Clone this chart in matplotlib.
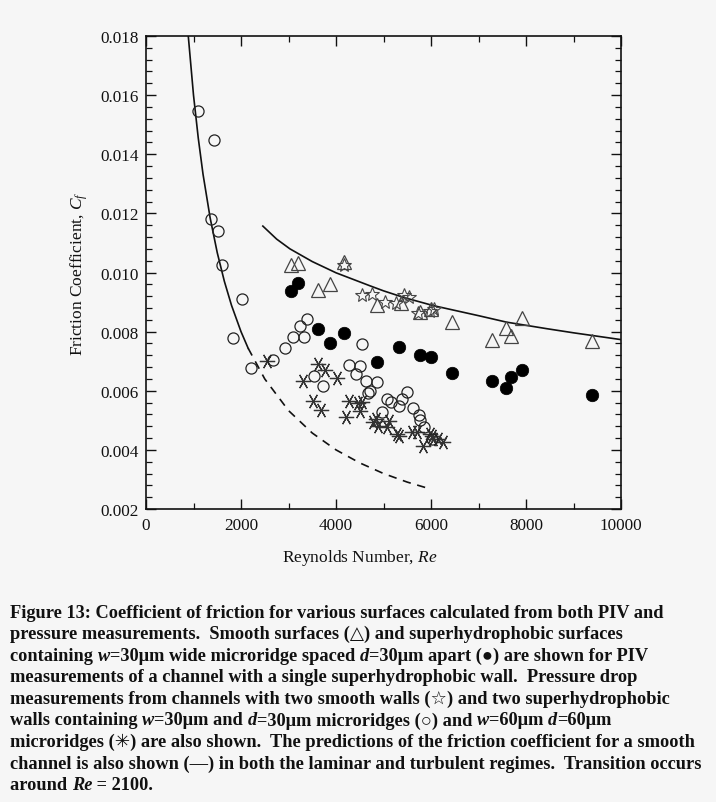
import matplotlib
matplotlib.use("Agg")
import matplotlib.pyplot as plt
from matplotlib.ticker import MultipleLocator, FormatStrFormatter

plt.rcParams['font.family'] = ['Liberation Serif', 'DejaVu Sans']
plt.rcParams['mathtext.fontset'] = 'custom'
plt.rcParams['mathtext.rm'] = 'Liberation Serif'
plt.rcParams['mathtext.it'] = 'Liberation Serif:italic'

# ---------------- data ----------------
# laminar prediction (solid part, then dashed extension)
lam_re = [890, 1000, 1100, 1200, 1350, 1500, 1650, 1800, 2000, 2150]
lam_cf = [0.0180, 0.0160, 0.01455, 0.01333, 0.01185, 0.01067, 0.0097, 0.00889, 0.0080, 0.00744]
lam_ext_re = [2150, 2500, 3000, 3500, 4000, 4500, 5000, 5500, 6000]
lam_ext_cf = [0.00744, 0.0064, 0.00533, 0.00457, 0.0040, 0.00356, 0.0032, 0.00291, 0.00267]
# turbulent prediction
turb_re = [2460, 2750, 3030, 3500, 4000, 4715, 5000, 5417, 6048, 7000, 7593, 8435, 9000, 10000]
turb_cf = [0.01157, 0.01113, 0.0108, 0.01037, 0.00999, 0.00955, 0.00938, 0.00916, 0.00888,
           0.00854, 0.00832, 0.0081, 0.00796, 0.00773]

# smooth surfaces, PIV (triangles)
tri_re = [3046, 3193, 3614, 3880, 4168, 4869, 5361, 5768, 5990, 6435, 7277, 7572, 7683, 7908, 9382]
tri_cf = [0.01025, 0.01032, 0.00941, 0.0096, 0.01034, 0.0089, 0.00896, 0.00867, 0.00875,
          0.00833, 0.00773, 0.00812, 0.00784, 0.00846, 0.00769]
# superhydrophobic single wall, PIV (filled circles)
fill_re = [3046, 3193, 3614, 3880, 4168, 4856, 5333, 5768, 5990, 6435, 7277, 7578, 7683, 7908, 9382]
fill_cf = [0.00938, 0.00964, 0.00809, 0.0076, 0.00797, 0.00696, 0.00747, 0.00722, 0.00714,
           0.0066, 0.00633, 0.00608, 0.00647, 0.00669, 0.00585]
# two smooth walls, pressure drop (stars)
star_re = [4168, 4540, 4751, 5031, 5262, 5438, 5543, 5733, 5978, 6069]
star_cf = [0.01025, 0.00924, 0.00927, 0.00901, 0.00896, 0.00924, 0.00916, 0.00863, 0.00871, 0.00876]
# two SH walls w=30 d=30 (open circles)
open_re = [1101, 1425, 1362, 1522, 1600, 2028, 1838, 2203, 2667, 2926, 3088, 3242, 3333, 3382,
           3536, 3719, 4266, 4414, 4505, 4553, 4631, 4680, 4722, 4863, 4975, 5080, 5157, 5333,
           5382, 5487, 5627, 5754, 5761, 5859, 6020]
open_cf = [0.01545, 0.01448, 0.01181, 0.01141, 0.01026, 0.00909, 0.00779, 0.00676, 0.00703,
           0.00744, 0.00783, 0.0082, 0.00783, 0.00843, 0.00651, 0.00616, 0.00688, 0.00658,
           0.00685, 0.00759, 0.00632, 0.00592, 0.00599, 0.00631, 0.00529, 0.00572, 0.00561,
           0.0055, 0.00572, 0.00597, 0.00542, 0.00518, 0.005, 0.00476, 0.00437]
# two SH walls w=60 d=60 (asterisks)
ast_re = [2540, 3311, 3522, 3614, 3684, 3768, 4014, 4210, 4266, 4456, 4505, 4540, 4772, 4842,
          4890, 5066, 5122, 5290, 5330, 5593, 5698, 5824, 5978, 6014, 6035, 6155, 6246]
ast_cf = [0.0070, 0.00634, 0.00564, 0.0069, 0.00535, 0.00671, 0.00642, 0.00512, 0.00566,
          0.00558, 0.00532, 0.00561, 0.00493, 0.00504, 0.0048, 0.00476, 0.00497, 0.00454,
          0.00446, 0.00459, 0.00459, 0.00414, 0.00454, 0.00448, 0.00437, 0.00437, 0.00428]

x_ticks = [0, 2000, 4000, 6000, 8000, 10000]
y_ticks = [0.002, 0.004, 0.006, 0.008, 0.010, 0.012, 0.014, 0.016, 0.018]

caption_lines = [
    [("Figure 13: Coefficient of friction for various surfaces calculated from both PIV and", "normal")],
    [("pressure measurements.  Smooth surfaces (\u25B3) and superhydrophobic surfaces", "normal")],
    [("containing ", "normal"), ("w", "italic"), ("=30\u03bcm wide microridge spaced ", "normal"),
     ("d", "italic"), ("=30\u03bcm apart (\u25CF) are shown for PIV", "normal")],
    [("measurements of a channel with a single superhydrophobic wall.  Pressure drop", "normal")],
    [("measurements from channels with two smooth walls (\u2606) and two superhydrophobic", "normal")],
    [("walls containing ", "normal"), ("w", "italic"), ("=30\u03bcm and ", "normal"), ("d", "italic"),
     ("=30\u03bcm microridges (\u25CB) and ", "normal"), ("w", "italic"), ("=60\u03bcm ", "normal"),
     ("d", "italic"), ("=60\u03bcm", "normal")],
    [("microridges (\u2733) are also shown.  The predictions of the friction coefficient for a smooth", "normal")],
    [("channel is also shown (\u2014) in both the laminar and turbulent regimes.  Transition occurs", "normal")],
    [("around ", "normal"), ("Re", "italic"), (" = 2100.", "normal")],
]

# ---------------- figure ----------------
W, H = 716, 803
bg = '#f6f6f6'
fig = plt.figure(figsize=(W / 100, H / 100), dpi=100, facecolor=bg)
ax = fig.add_axes([146 / W, 1 - 510 / H, (621 - 146) / W, (510 - 37) / H], facecolor=bg)

ax.plot(lam_re, lam_cf, color='#111111', lw=1.2)
ax.plot(lam_ext_re, lam_ext_cf, color='#111111', lw=1.2, ls=(0, (5, 4)))
ax.plot(turb_re, turb_cf, color='#111111', lw=1.2)

ax.plot(ast_re, ast_cf, ls='none', marker=(6, 2, 90), ms=11, mec='#333333', mew=0.9)
ax.plot(open_re, open_cf, ls='none', marker='o', ms=8, mfc='none', mec='#222222', mew=0.9)
ax.plot(tri_re, tri_cf, ls='none', marker='^', ms=10, mfc='none', mec='#444444', mew=0.9)
ax.plot(star_re, star_cf, ls='none', marker='*', ms=10, mfc='none', mec='#444444', mew=0.8)
ax.plot(fill_re, fill_cf, ls='none', marker='o', ms=9, mfc='black', mec='black', mew=0.5)

ax.set_xlim(0, 10000)
ax.set_ylim(0.002, 0.018)
ax.set_xticks(x_ticks)
ax.set_yticks(y_ticks)
ax.xaxis.set_minor_locator(MultipleLocator(1000))
ax.yaxis.set_minor_locator(MultipleLocator(0.0004))
ax.yaxis.set_major_formatter(FormatStrFormatter('%.3f'))
ax.tick_params(which='both', direction='in', top=True, right=True, labelsize=12.3, colors='#111111')
ax.tick_params(which='major', length=7, width=1.0)
ax.tick_params(which='minor', length=4.5, width=0.9)
ax.tick_params(axis='x', pad=6)
ax.tick_params(axis='y', pad=5)
for s in ax.spines.values():
    s.set_linewidth(1.2)
    s.set_color('#111111')

ax.set_xlabel("Reynolds Number, $Re$", fontsize=12.5, color='#111111')
ax.xaxis.set_label_coords((360 - 146) / (621 - 146), -0.08)
ax.set_ylabel("Friction Coefficient, $C_f$", fontsize=12.5, color='#111111')
ax.yaxis.set_label_coords((90 - 146) / (621 - 146), 0.5)

# ---------------- caption ----------------
renderer = fig.canvas.get_renderer()
cap_size = 13.25
y0 = 613
dy = 21.6
for i, segs in enumerate(caption_lines):
    x = 10.0
    y = y0 + i * dy
    for txt, style in segs:
        t = fig.text(x / W, 1 - y / H, txt, fontsize=cap_size, fontweight='bold', fontstyle=style,
                     family=['Liberation Serif', 'DejaVu Sans'], va='center', ha='left', color='#111111')
        bb = t.get_window_extent(renderer)
        x += bb.width

fig.savefig("out.png", dpi=100, facecolor=bg)
